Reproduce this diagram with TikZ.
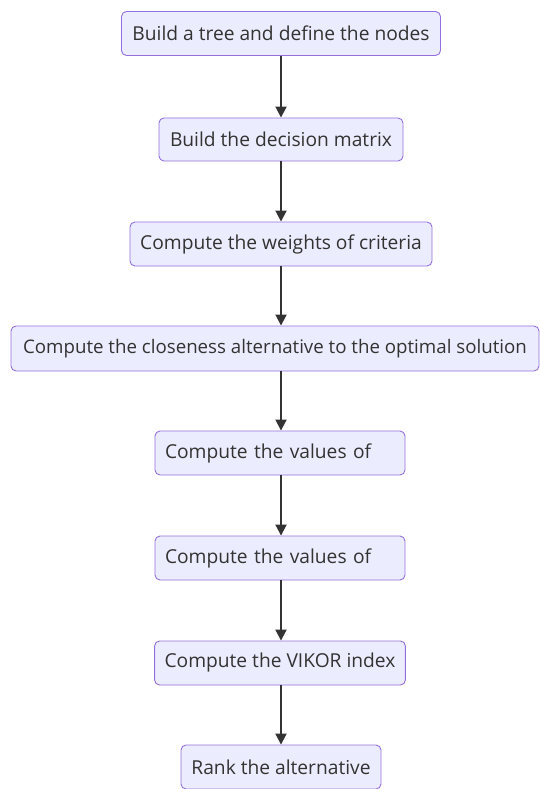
\documentclass[tikz,border=0pt]{standalone}
\usepackage{fontspec}
\setmainfont{Open Sans}
\usetikzlibrary{arrows.meta}
\definecolor{boxfill}{HTML}{ECECFF}
\definecolor{boxline}{HTML}{9370DB}
\definecolor{edge}{HTML}{333333}
\definecolor{txt}{HTML}{333333}
\tikzset{
  stepbox/.style={draw=boxline, fill=boxfill, rounded corners=5pt, line width=0.9pt,
    minimum height=44pt, inner xsep=10pt, text=txt, font=\fontsize{19.2}{22}\selectfont},
  leftbox/.style={stepbox, text width=230pt, align=left},
  flow/.style={draw=edge, line width=2pt, -{Triangle[length=11pt,width=11pt]}}
}
\begin{document}
\begin{tikzpicture}[x=1pt,y=-1pt]
\useasboundingbox (0,0) rectangle (540,789);
\node[stepbox, minimum width=319pt] (n1) at (281,33.5) {Build a tree and define the nodes};
\node[stepbox, minimum width=244pt, minimum height=43pt] (n2) at (281,139.5) {Build the decision matrix};
\node[stepbox, minimum width=302pt] (n3) at (281,244) {Compute the weights of criteria};
\node[stepbox, minimum width=528pt, minimum height=45pt, inner xsep=4pt, font=\fontsize{18.7}{22}\selectfont] (n4) at (275,348.5) {Compute the closeness alternative to the optimal solution};
\node[leftbox] (n5) at (280,453) {Compute the values of};
\node[leftbox] (n6) at (280,558) {Compute the values of};
\node[stepbox, minimum width=250pt] (n7) at (280,663) {Compute the VIKOR index};
\node[stepbox, minimum width=200pt] (n8) at (281,767) {Rank the alternative};
\foreach \a/\b in {n1/n2,n2/n3,n3/n4,n4/n5,n5/n6,n6/n7,n7/n8}
  \draw[flow] (\a.south -| n1.south) -- (\b.north -| n1.south);
\end{tikzpicture}
\end{document}
